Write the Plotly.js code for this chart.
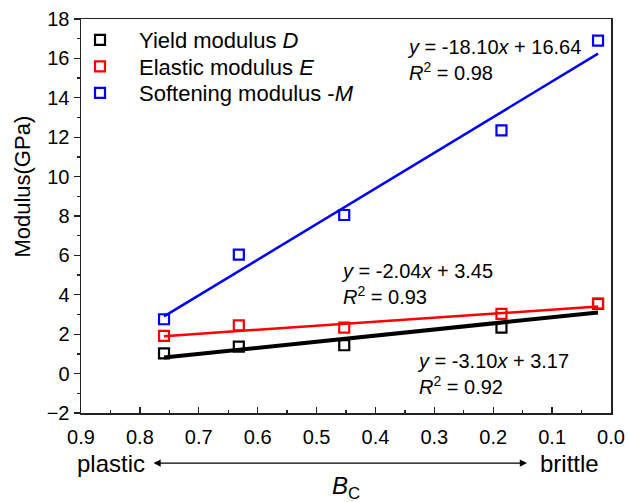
<!DOCTYPE html>
<html>
<head>
<meta charset="utf-8">
<script src="https://cdn.plot.ly/plotly-3.0.1.min.js"></script>
<style>html,body{margin:0;padding:0;background:#fff;}#chart{width:629px;height:502px;}</style>
</head>
<body>
<div id="chart"></div>
<script>
// Data
const bc = [0.759, 0.632, 0.453, 0.186, 0.022];
const yieldD = [1.03, 1.37, 1.44, 2.33, 3.54];
const elasticE = [1.91, 2.45, 2.33, 3.03, 3.55];
const softM = [2.76, 6.04, 8.05, 12.35, 16.9];
const seriesNames = ['Yield modulus <i>D</i>', 'Elastic modulus <i>E</i>', 'Softening modulus -<i>M</i>'];
const colors = ['#000000', '#ff0000', '#0000ff'];
// Linear fit coefficients printed on the chart
const slopes = [-3.10, -2.04, -18.10];
const intercepts = [3.17, 3.45, 16.64];
const r2 = ['0.92', '0.93', '0.98'];
const fitWidths = [4, 2.5, 2.5];
const legendIds = ['legend', 'legend2', 'legend3'];

const series = [yieldD, elasticE, softM];
const fitX = [Math.max(...bc), Math.min(...bc)];
const traces = [];
series.forEach((s, i) => {
  traces.push({
    x: fitX, y: fitX.map(v => slopes[i] * v + intercepts[i]),
    mode: 'lines', line: {color: colors[i], width: fitWidths[i]},
    showlegend: false, hoverinfo: 'skip'
  });
});
series.forEach((s, i) => {
  traces.push({
    x: bc, y: s, name: seriesNames[i], mode: 'markers', legend: legendIds[i],
    marker: {symbol: 'square-open', size: 10, color: colors[i], line: {width: 2.2, color: colors[i]}}
  });
});

function eq(i) {
  const b = intercepts[i].toFixed(2);
  return '<i>y</i> = ' + slopes[i].toFixed(2) + '<i>x</i> + ' + b + '<br><i>R</i><sup>2</sup> = ' + r2[i];
}
const font = 'Liberation Sans, Arial, sans-serif';
function leg(y) {
  return {x: -0.0377, y: y, xanchor: 'left', yanchor: 'top', bgcolor: 'rgba(0,0,0,0)',
          font: {size: 22, family: font}, itemwidth: 68};
}
const layout = {
  width: 629, height: 502,
  margin: {l: 81, r: 18, t: 19, b: 89},
  paper_bgcolor: '#fff', plot_bgcolor: '#fff',
  font: {family: font, color: '#000', size: 20},
  showlegend: true,
  legend: leg(1.0), legend2: leg(0.9327), legend3: leg(0.8655),
  xaxis: {
    range: [0.9, 0.0], dtick: 0.1, tick0: 0, tickformat: '.1f',
    ticks: 'inside', ticklen: 6, tickwidth: 1.3, tickcolor: '#222',
    minor: {dtick: 0.05, ticks: 'inside', ticklen: 3, tickwidth: 1.3, tickcolor: '#222'},
    showline: true, linecolor: '#222', linewidth: 1.5, mirror: true,
    showgrid: false, zeroline: false, tickfont: {size: 20}, ticklabelstandoff: 5
  },
  yaxis: {
    range: [-2, 18], dtick: 2, tick0: 0,
    ticks: 'outside', ticklen: 6, tickwidth: 1.3, tickcolor: '#222',
    minor: {dtick: 1, ticks: 'outside', ticklen: 3, tickwidth: 1.3, tickcolor: '#222'},
    showline: true, linecolor: '#222', linewidth: 1.5, mirror: true,
    showgrid: false, zeroline: false, tickfont: {size: 20}
  },
  annotations: [
    {xref: 'paper', yref: 'paper', x: -0.111, y: 0.575, xanchor: 'center', yanchor: 'middle',
     textangle: -90, showarrow: false, text: 'Modulus(GPa)', font: {size: 22}},
    {xref: 'paper', yref: 'paper', x: 0.611, y: 0.895, xanchor: 'left', yanchor: 'middle', align: 'left',
     showarrow: false, text: eq(2), font: {size: 20}},
    {xref: 'paper', yref: 'paper', x: 0.487, y: 0.328, xanchor: 'left', yanchor: 'middle', align: 'left',
     showarrow: false, text: eq(1), font: {size: 20}},
    {xref: 'paper', yref: 'paper', x: 0.630, y: 0.099, xanchor: 'left', yanchor: 'middle', align: 'left',
     showarrow: false, text: eq(0), font: {size: 20}},
    {xref: 'paper', yref: 'paper', x: 0.1245, y: -0.127, xanchor: 'right', yanchor: 'middle',
     showarrow: false, text: 'plastic', font: {size: 24}},
    {xref: 'paper', yref: 'paper', x: 0.862, y: -0.127, xanchor: 'left', yanchor: 'middle',
     showarrow: false, text: 'brittle', font: {size: 24}},
    {xref: 'paper', yref: 'paper', x: 0.8415, y: -0.127, ax: -375, ay: 0, axref: 'pixel', ayref: 'pixel',
     showarrow: true, text: '', arrowside: 'end+start', arrowhead: 2, arrowsize: 1.2, arrowwidth: 1.2, arrowcolor: '#000'},
    {xref: 'paper', yref: 'paper', x: 0.5, y: -0.19, xanchor: 'center', yanchor: 'middle',
     showarrow: false, text: '<i>B</i><sub>C</sub>', font: {size: 24}}
  ]
};
Plotly.newPlot('chart', traces, layout, {displayModeBar: false, staticPlot: true});
</script>
</body>
</html>
